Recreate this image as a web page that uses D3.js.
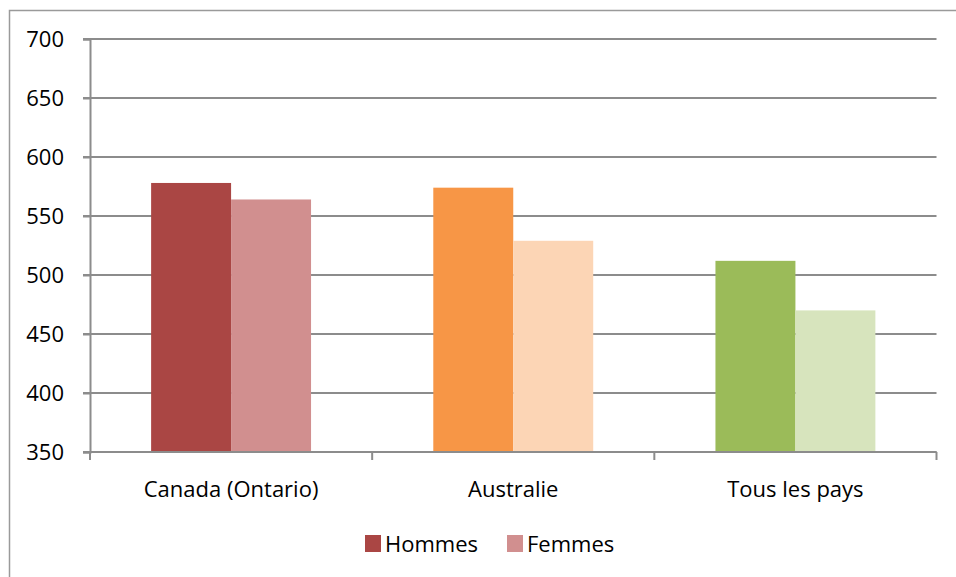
<!DOCTYPE html>
<html>
<head>
<meta charset="utf-8">
<script src="https://cdn.jsdelivr.net/npm/d3@7"></script>
<style>
  html, body { margin: 0; padding: 0; background: #fff; }
  svg { display: block; }
  text { font-family: "Open Sans", "Noto Sans", sans-serif; fill: #000; }
</style>
</head>
<body>
<svg id="chart" width="956" height="577"></svg>
<script>
// Data
const categories = ["Canada (Ontario)", "Australie", "Tous les pays"];
const seriesNames = ["Hommes", "Femmes"];
const hommes = [578, 574, 512];
const femmes = [564, 529, 470];
const yTicks = [350, 400, 450, 500, 550, 600, 650, 700];

// Per-category colours: [Hommes, Femmes]
const colors = [
  ["#AA4644", "#D18F8F"],
  ["#F79646", "#FCD5B5"],
  ["#9BBB59", "#D7E4BD"]
];

const svg = d3.select("#chart");
const W = 956, H = 577;
const margin = { left: 90, right: 20, top: 39, bottom: 125 };
const plotR = 936.5, plotB = 452;

// Outer chart frame (extends past the right and bottom edges)
svg.append("rect")
  .attr("x", 9.5).attr("y", 10.5)
  .attr("width", W + 20).attr("height", H + 20)
  .attr("fill", "none").attr("stroke", "#9a9a9a").attr("stroke-width", 1.5);

const x = d3.scaleBand().domain(categories).range([margin.left, plotR]).paddingInner(0).paddingOuter(0);
const y = d3.scaleLinear().domain([350, 700]).range([plotB, margin.top]);

const barW = x.bandwidth() * 80 / 282.3;

// Gridlines
svg.append("g")
  .selectAll("line")
  .data(yTicks)
  .join("line")
  .attr("x1", margin.left - 7).attr("x2", plotR)
  .attr("y1", d => y(d)).attr("y2", d => y(d))
  .attr("stroke", "#8c8c8c").attr("stroke-width", 2);

// Bars
const rows = categories.map((c, i) => ({ c, i, vals: [hommes[i], femmes[i]] }));
const groups = svg.append("g").selectAll("g").data(rows).join("g");
groups.selectAll("rect")
  .data(d => d.vals.map((v, k) => ({ v, k, i: d.i, c: d.c })))
  .join("rect")
  .attr("x", d => x(d.c) + x.bandwidth() / 2 - barW + d.k * barW)
  .attr("width", barW)
  .attr("y", d => y(d.v))
  .attr("height", d => plotB - y(d.v))
  .attr("fill", d => colors[d.i][d.k]);

// Y axis
const yAxis = svg.append("g")
  .attr("transform", `translate(${margin.left},0)`)
  .call(d3.axisLeft(y).tickValues(yTicks).tickSize(7).tickPadding(20).tickFormat(d3.format("d")));
yAxis.select(".domain").attr("stroke", "#8c8c8c").attr("stroke-width", 2);
yAxis.selectAll(".tick line").attr("stroke", "#8c8c8c").attr("stroke-width", 2);
yAxis.selectAll(".tick text")
  .style("font-size", "22px").style("font-family", "'Open Sans', sans-serif")
  .attr("x", -26).attr("dy", "0.36em");

// X axis with ticks at category boundaries
const xAxis = svg.append("g").attr("transform", `translate(0,${plotB})`);
xAxis.append("line")
  .attr("x1", margin.left).attr("x2", plotR)
  .attr("stroke", "#8c8c8c").attr("stroke-width", 2);
const boundaries = categories.map(c => x(c)).concat([plotR]);
xAxis.selectAll("line.tick")
  .data(boundaries)
  .join("line")
  .attr("class", "tick")
  .attr("x1", d => d).attr("x2", d => d)
  .attr("y1", 0).attr("y2", 8)
  .attr("stroke", "#8c8c8c").attr("stroke-width", 2);
xAxis.selectAll("text")
  .data(categories)
  .join("text")
  .attr("x", d => x(d) + x.bandwidth() / 2)
  .attr("y", 45)
  .attr("text-anchor", "middle")
  .style("font-size", "22px")
  .text(d => d);

// Legend
const legend = svg.append("g");
const legendItems = [
  { name: seriesNames[0], color: colors[0][0], x: 365 },
  { name: seriesNames[1], color: colors[0][1], x: 507 }
];
legend.selectAll("rect")
  .data(legendItems)
  .join("rect")
  .attr("x", d => d.x).attr("y", 535)
  .attr("width", 16).attr("height", 17)
  .attr("fill", d => d.color);
legend.selectAll("text")
  .data(legendItems)
  .join("text")
  .attr("x", d => d.x + 20).attr("y", 552)
  .style("font-size", "22px")
  .text(d => d.name);
</script>
</body>
</html>
